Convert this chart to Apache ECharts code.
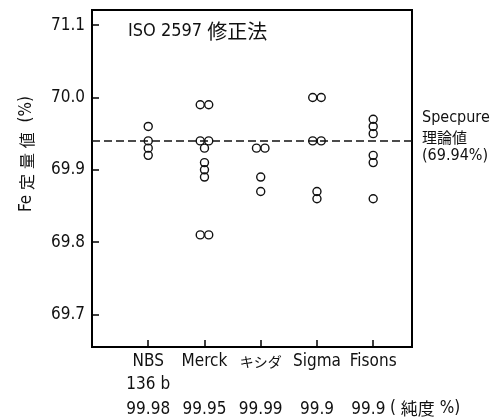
<!DOCTYPE html>
<html>
<head>
<meta charset="utf-8">
<script src="https://cdn.jsdelivr.net/npm/echarts@6/dist/echarts.min.js"></script>
<style>
  html, body { margin: 0; padding: 0; background: #fff; }
  #chart { width: 496px; height: 420px; }
</style>
</head>
<body>
<div id="chart"></div>
<script>
// Reagents and their stated purity
const categories = ['NBS', 'Merck', 'キシダ', 'Sigma', 'Fisons'];
const subLabels = ['136 b', '', '', '', ''];
const purity = ['99.98', '99.95', '99.99', '99.9', '99.9'];

// Fe determinations (%) per reagent
const nbs = [69.96, 69.94, 69.93, 69.92];
const merck = [69.99, 69.99, 69.94, 69.94, 69.93, 69.91, 69.90, 69.89, 69.81, 69.81];
const kishida = [69.93, 69.93, 69.89, 69.87];
const sigma = [70.00, 70.00, 69.94, 69.94, 69.87, 69.86];
const fisons = [69.97, 69.96, 69.95, 69.92, 69.91, 69.86];

// Theoretical value for Specpure
const specpure = 69.94;

// Y axis ticks and their printed labels
const yTicks = [69.7, 69.8, 69.9, 70.0, 70.1];
const yTickLabels = ['69.7', '69.8', '69.9', '70.0', '71.1'];

const groups = [nbs, merck, kishida, sigma, fisons];

const LATIN = "'DejaVu Sans Condensed', 'Noto Sans CJK JP', sans-serif";
const CJK = "'Noto Sans CJK JP', sans-serif";

// Repeated values sit side by side
const points = [];
groups.forEach((vals, gi) => {
  const seen = {};
  vals.forEach(v => {
    const n = vals.filter(w => w === v).length;
    const k = seen[v] || 0;
    seen[v] = k + 1;
    const off = n > 1 ? (k - (n - 1) / 2) * 8.5 : 0;
    points.push({ value: [gi + 1, v], symbolOffset: [off, 0] });
  });
});

const chart = echarts.init(document.getElementById('chart'), null, { renderer: 'canvas' });

chart.setOption({
  animation: false,
  backgroundColor: '#fff',
  grid: {
    left: 92, right: 84, top: 10, bottom: 73,
    show: true, borderColor: '#000', borderWidth: 2, backgroundColor: 'transparent'
  },
  xAxis: {
    type: 'value',
    min: 0, max: 5.69,
    splitLine: { show: false },
    axisLine: { lineStyle: { color: '#000', width: 2 } },
    axisTick: { inside: true, length: 7, lineStyle: { color: '#000', width: 1.5 }, customValues: [1, 2, 3, 4, 5] },
    axisLabel: {
      customValues: [1, 2, 3, 4, 5],
      hideOverlap: false,
      showMaxLabel: true,
      margin: 4,
      formatter: v => {
        const i = Math.round(v) - 1;
        const name = i === 2 ? '{k|' + categories[i] + '}' : '{a|' + categories[i] + '}';
        // last purity figure leaves room for the unit note on its right
        const tail = i === categories.length - 1 ? '{c|\u00a0\u00a0}' : '';
        return name + '\n{b|' + (subLabels[i] || ' ') + '}\n{c|' + purity[i] + '}' + tail;
      },
      rich: {
        a: { fontFamily: LATIN, fontSize: 17, color: '#111', lineHeight: 22 },
        k: { fontFamily: CJK, fontSize: 14, color: '#111', lineHeight: 22 },
        b: { fontFamily: LATIN, fontSize: 17, color: '#111', lineHeight: 24 },
        c: { fontFamily: LATIN, fontSize: 17, color: '#111', lineHeight: 25 }
      }
    }
  },
  yAxis: {
    type: 'value',
    min: 69.655, max: 70.121,
    splitLine: { show: false },
    axisLine: { lineStyle: { color: '#000', width: 2 } },
    axisTick: { inside: true, length: 7, lineStyle: { color: '#000', width: 1.5 }, customValues: yTicks },
    axisLabel: {
      customValues: yTicks,
      margin: 7,
      fontFamily: LATIN, fontSize: 17, color: '#111',
      formatter: v => {
        const i = yTicks.findIndex(t => Math.abs(t - v) < 1e-6);
        return i >= 0 ? yTickLabels[i] : '';
      }
    }
  },
  series: [{
    type: 'scatter',
    data: points,
    symbol: 'circle',
    symbolSize: 8,
    itemStyle: { color: 'rgba(0,0,0,0)', borderColor: '#111', borderWidth: 1.4, opacity: 1 },
    markLine: {
      silent: true,
      symbol: ['none', 'none'],
      data: [{ yAxis: specpure }],
      lineStyle: { color: '#111', width: 1.5, type: [8, 4] },
      label: {
        show: true, position: 'end', distance: 10, offset: [0, -4],
        formatter: '{l|Specpure}\n{j|理論値}\n{l|(' + specpure + '%)}',
        rich: {
          l: { fontFamily: LATIN, fontSize: 16, color: '#111', lineHeight: 19, align: 'left' },
          j: { fontFamily: CJK, fontSize: 15, color: '#111', lineHeight: 19, align: 'left' }
        }
      }
    }
  }],
  graphic: [
    {
      type: 'text', left: 128, top: 21,
      style: {
        text: '{l|ISO 2597 }{j|修正法}',
        rich: {
          l: { fontFamily: LATIN, fontSize: 18, fill: '#111' },
          j: { fontFamily: CJK, fontSize: 20, fill: '#111' }
        }
      }
    },
    {
      type: 'text', x: 27, y: 154, rotation: Math.PI / 2,
      style: {
        text: '{l|Fe }{j|定}{l| }{j|量}{l| }{j|値}{l|  (%)}',
        align: 'center', verticalAlign: 'middle',
        rich: {
          l: { fontFamily: LATIN, fontSize: 17, fill: '#111' },
          j: { fontFamily: CJK, fontSize: 16, fill: '#111' }
        }
      }
    },
    {
      type: 'text', left: 390, top: 400,
      style: {
        text: '{l|( }{j|純度}{l| %)}',
        rich: {
          l: { fontFamily: LATIN, fontSize: 17, fill: '#111' },
          j: { fontFamily: CJK, fontSize: 17, fill: '#111' }
        }
      }
    }
  ]
});
</script>
</body>
</html>
